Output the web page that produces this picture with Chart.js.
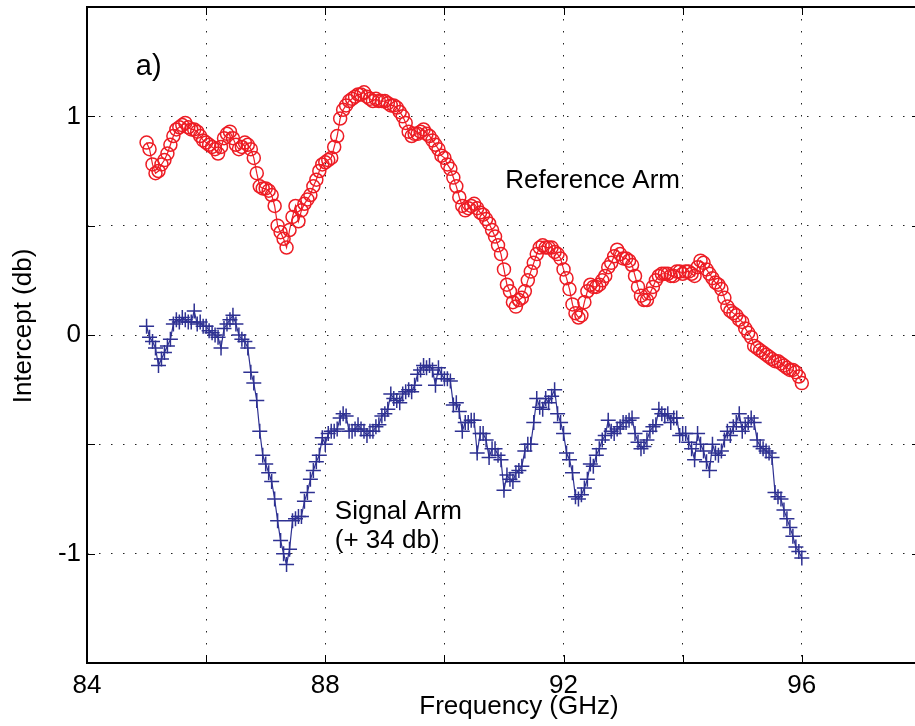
<!DOCTYPE html>
<html>
<head>
<meta charset="utf-8">
<script src="https://cdn.jsdelivr.net/npm/chart.js@4.4.0/dist/chart.umd.min.js"></script>
<style>
html, body { margin: 0; padding: 0; background: #fff; overflow: hidden; }
#wrap { width: 915px; height: 726px; position: relative; }
</style>
</head>
<body>
<div id="wrap"><canvas id="chart"></canvas></div>
<script>
// both sweeps: 85.00 .. 96.00 GHz, one sample every 0.05 GHz
const freqStart = 85.0;
const freqStep = 0.05;

// one row per GHz (20 samples each)
const referenceArm = [
    0.88, 0.85, 0.78, 0.74, 0.75, 0.78, 0.80, 0.83, 0.87, 0.91, 0.94, 0.95, 0.96, 0.97, 0.95, 0.94, 0.94, 0.93, 0.91, 0.89,
    0.88, 0.87, 0.86, 0.85, 0.83, 0.86, 0.90, 0.92, 0.93, 0.90, 0.87, 0.85, 0.86, 0.88, 0.87, 0.85, 0.81, 0.74, 0.68, 0.67,
    0.67, 0.66, 0.64, 0.59, 0.50, 0.47, 0.44, 0.40, 0.48, 0.54, 0.59, 0.52, 0.57, 0.60, 0.62, 0.64, 0.68, 0.71, 0.75, 0.78,
    0.79, 0.80, 0.81, 0.86, 0.91, 0.99, 1.03, 1.05, 1.07, 1.08, 1.09, 1.10, 1.10, 1.11, 1.09, 1.08, 1.07, 1.08, 1.07, 1.07,
    1.07, 1.06, 1.05, 1.05, 1.04, 1.02, 1.00, 0.97, 0.93, 0.91, 0.92, 0.92, 0.93, 0.94, 0.92, 0.91, 0.89, 0.87, 0.85, 0.82,
    0.81, 0.78, 0.76, 0.72, 0.68, 0.63, 0.59, 0.57, 0.58, 0.59, 0.60, 0.58, 0.56, 0.55, 0.53, 0.51, 0.48, 0.45, 0.41, 0.37,
    0.30, 0.23, 0.20, 0.15, 0.13, 0.16, 0.17, 0.20, 0.25, 0.29, 0.33, 0.37, 0.40, 0.41, 0.40, 0.40, 0.40, 0.38, 0.37, 0.35,
    0.30, 0.26, 0.21, 0.14, 0.10, 0.08, 0.09, 0.15, 0.20, 0.23, 0.22, 0.22, 0.23, 0.25, 0.27, 0.31, 0.33, 0.36, 0.39, 0.37,
    0.35, 0.35, 0.34, 0.32, 0.27, 0.22, 0.18, 0.16, 0.16, 0.19, 0.22, 0.25, 0.27, 0.28, 0.28, 0.28, 0.27, 0.27, 0.29, 0.29,
    0.28, 0.29, 0.29, 0.28, 0.27, 0.31, 0.34, 0.33, 0.30, 0.28, 0.26, 0.24, 0.23, 0.21, 0.17, 0.13, 0.11, 0.10, 0.09, 0.07,
    0.06, 0.03, 0.01, -0.01, -0.05, -0.06, -0.07, -0.08, -0.09, -0.10, -0.11, -0.12, -0.12, -0.13, -0.14, -0.15, -0.16, -0.16, -0.17, -0.19,
    -0.22
];

// signal arm, already shifted by +34 db
const signalArm = [
    0.04, -0.01, -0.03, -0.06, -0.14, -0.11, -0.08, -0.05, -0.02, 0.05, 0.07, 0.06, 0.08, 0.07, 0.06, 0.06, 0.11, 0.05, 0.06, 0.04,
    0.04, 0.02, 0.01, 0.00, -0.01, -0.06, 0.03, 0.05, 0.07, 0.09, 0.05, 0.00, -0.02, -0.03, -0.06, -0.17, -0.22, -0.30, -0.44, -0.55,
    -0.59, -0.63, -0.67, -0.75, -0.85, -0.94, -1.00, -1.05, -0.98, -0.85, -0.84, -0.83, -0.83, -0.76, -0.72, -0.66, -0.62, -0.58, -0.55, -0.47,
    -0.50, -0.45, -0.44, -0.44, -0.43, -0.38, -0.36, -0.37, -0.44, -0.44, -0.43, -0.41, -0.43, -0.44, -0.46, -0.44, -0.44, -0.42, -0.41, -0.37,
    -0.36, -0.34, -0.27, -0.29, -0.30, -0.31, -0.27, -0.26, -0.25, -0.26, -0.23, -0.18, -0.16, -0.14, -0.15, -0.14, -0.16, -0.23, -0.15, -0.18,
    -0.20, -0.20, -0.21, -0.32, -0.31, -0.35, -0.44, -0.40, -0.40, -0.39, -0.39, -0.54, -0.45, -0.45, -0.48, -0.56, -0.52, -0.52, -0.55, -0.57,
    -0.71, -0.64, -0.66, -0.67, -0.63, -0.62, -0.60, -0.53, -0.50, -0.50, -0.40, -0.29, -0.33, -0.34, -0.29, -0.31, -0.28, -0.25, -0.36, -0.40,
    -0.45, -0.54, -0.57, -0.63, -0.74, -0.75, -0.73, -0.70, -0.66, -0.59, -0.60, -0.55, -0.52, -0.48, -0.46, -0.39, -0.44, -0.45, -0.43, -0.42,
    -0.40, -0.40, -0.39, -0.38, -0.45, -0.49, -0.52, -0.51, -0.48, -0.44, -0.42, -0.41, -0.34, -0.36, -0.37, -0.36, -0.40, -0.38, -0.38, -0.46,
    -0.45, -0.45, -0.49, -0.52, -0.57, -0.45, -0.50, -0.53, -0.58, -0.62, -0.50, -0.54, -0.55, -0.53, -0.48, -0.44, -0.46, -0.42, -0.40, -0.36,
    -0.44, -0.42, -0.40, -0.38, -0.40, -0.48, -0.51, -0.52, -0.53, -0.54, -0.56, -0.72, -0.74, -0.75, -0.80, -0.84, -0.88, -0.92, -0.97, -0.99,
    -1.02
];

const xTicks = [84, 86, 88, 90, 92, 94, 96];
const xLabels = [84, 88, 92, 96];
const yTicks = [-1.5, -1, -0.5, 0, 0.5, 1, 1.5];
const yLabels = [-1, 0, 1];

const FONT = "'Liberation Sans', Arial, Helvetica, sans-serif";

function toPoints(values) {
    return values.map((v, i) => ({ x: +(freqStart + i * freqStep).toFixed(2), y: v }));
}

// text written on the plot, anchored in data units
const notes = [
    { text: 'a)', x: 84.82, y: 1.19, size: 29 },
    { text: 'Reference Arm', x: 91.02, y: 0.672, size: 26 },
    { text: 'Signal Arm', x: 88.16, y: -0.841, size: 26 },
    { text: '(+ 34 db)', x: 88.16, y: -0.974, size: 26 }
];

const framePlugin = {
    id: 'frame',
    afterDraw(chart) {
        const ctx = chart.ctx;
        const a = chart.chartArea;
        const x = chart.scales.x, y = chart.scales.y;
        ctx.save();
        ctx.strokeStyle = '#000';
        ctx.lineWidth = 1;
        ctx.beginPath();
        xTicks.forEach(v => {
            const px = Math.round(x.getPixelForValue(v)) + 0.5;
            ctx.moveTo(px, a.bottom); ctx.lineTo(px, a.bottom - 8);
            ctx.moveTo(px, a.top); ctx.lineTo(px, a.top + 8);
        });
        yTicks.forEach(v => {
            const py = Math.round(y.getPixelForValue(v)) + 0.5;
            ctx.moveTo(a.left, py); ctx.lineTo(a.left + 8, py);
            ctx.moveTo(a.right, py); ctx.lineTo(a.right - 3, py);
        });
        ctx.stroke();

        ctx.lineWidth = 2;
        ctx.beginPath();
        ctx.moveTo(a.right, a.top);
        ctx.lineTo(a.left, a.top);
        ctx.lineTo(a.left, a.bottom);
        ctx.lineTo(a.right, a.bottom);
        ctx.stroke();

        ctx.fillStyle = '#000';
        ctx.textBaseline = 'alphabetic';
        ctx.textAlign = 'left';
        notes.forEach(n => {
            ctx.font = n.size + 'px ' + FONT;
            ctx.fillText(n.text, x.getPixelForValue(n.x), y.getPixelForValue(n.y));
        });

        // axis titles
        ctx.font = '26px ' + FONT;
        ctx.textAlign = 'center';
        ctx.fillText('Frequency (GHz)', 519, 714);
        ctx.translate(31, 326);
        ctx.rotate(-Math.PI / 2);
        ctx.fillText('Intercept (db)', 0, 0);
        ctx.restore();
    }
};

function noPadding(s) {
    s.paddingTop = 0; s.paddingBottom = 0; s.paddingLeft = 0; s.paddingRight = 0;
}

new Chart(document.getElementById('chart'), {
    type: 'line',
    data: {
        datasets: [{
            label: 'Reference Arm',
            data: toPoints(referenceArm),
            borderColor: 'rgb(237, 28, 36)',
            borderWidth: 1.2,
            pointStyle: 'circle',
            pointRadius: 6.5,
            pointBorderWidth: 1.5,
            pointBorderColor: 'rgb(237, 28, 36)',
            pointBackgroundColor: 'rgba(0,0,0,0)',
            tension: 0
        }, {
            label: 'Signal Arm',
            data: toPoints(signalArm),
            borderColor: 'rgb(46, 49, 146)',
            borderWidth: 1.2,
            pointStyle: 'cross',
            pointRadius: 7.5,
            pointBorderWidth: 1.5,
            pointBorderColor: 'rgb(46, 49, 146)',
            tension: 0
        }]
    },
    options: {
        responsive: true,
        maintainAspectRatio: false,
        devicePixelRatio: 1,
        animation: false,
        layout: { autoPadding: false, padding: { top: 7, right: 0, bottom: 0, left: 0 } },
        plugins: {
            legend: { display: false },
            tooltip: { enabled: false }
        },
        scales: {
            x: {
                type: 'linear',
                min: 84,
                max: 97.9,
                afterBuildTicks: s => { s.ticks = xTicks.map(v => ({ value: v })); },
                afterFit: s => { s.height = 63; noPadding(s); },
                ticks: {
                    callback: v => xLabels.includes(v) ? String(v) : '',
                    font: { family: FONT, size: 26 },
                    color: '#000',
                    padding: 7,
                    maxRotation: 0,
                    autoSkip: false
                },
                grid: { color: '#222', lineWidth: 1, drawTicks: false },
                border: { display: false, dash: [1.5, 10.5] }
            },
            y: {
                min: -1.5,
                max: 1.5,
                afterBuildTicks: s => { s.ticks = yTicks.map(v => ({ value: v })); },
                afterFit: s => { s.width = 87; noPadding(s); },
                ticks: {
                    callback: v => yLabels.includes(v) ? String(v) : '',
                    font: { family: FONT, size: 26 },
                    color: '#000',
                    padding: 6,
                    autoSkip: false
                },
                grid: { color: '#222', lineWidth: 1, drawTicks: false },
                border: { display: false, dash: [1.5, 10.5] }
            }
        }
    },
    plugins: [framePlugin]
});
</script>
</body>
</html>
